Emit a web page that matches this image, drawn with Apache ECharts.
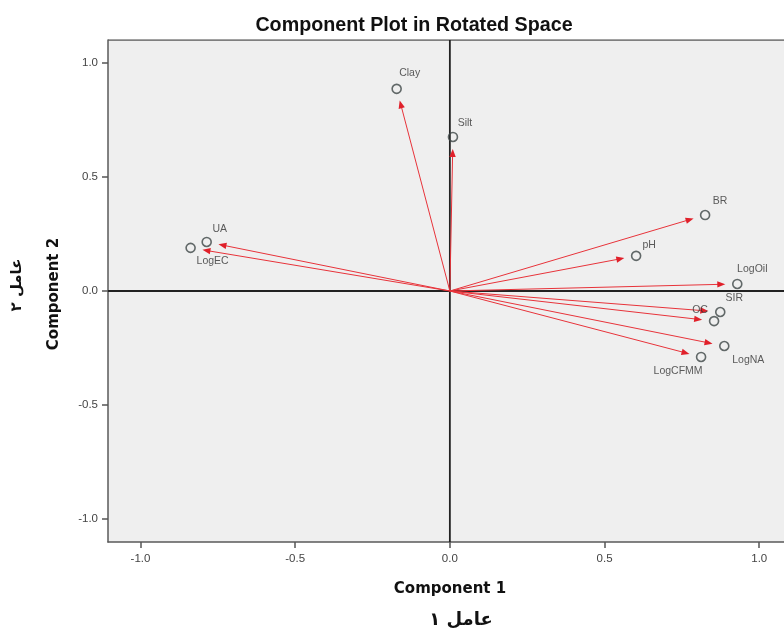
<!DOCTYPE html>
<html><head><meta charset="utf-8">
<script src="https://cdn.jsdelivr.net/npm/echarts@6/dist/echarts.min.js"></script>
<style>html,body{margin:0;padding:0;background:#fff}#c{width:784px;height:634px}</style>
</head><body><div id="c"></div>
<script>
var variables = ['Clay','Silt','BR','pH','LogOil','SIR','OC','LogNA','LogCFMM','UA','LogEC'];
var component1 = [-0.172, 0.010, 0.825, 0.602, 0.929, 0.874, 0.854, 0.887, 0.812, -0.786, -0.838];
var component2 = [0.886, 0.675, 0.333, 0.154, 0.031, -0.092, -0.132, -0.241, -0.289, 0.215, 0.189];
var tickValues = [-1.0, -0.5, 0.0, 0.5, 1.0];

// label offsets (styling only)
var labelOffset = {
  Clay:[13,-16], Silt:[12,-14], BR:[15,-14], pH:[13,-11], LogOil:[15,-15],
  SIR:[14,-14], OC:[-14,-11], LogNA:[24,14], LogCFMM:[-23,14], UA:[13,-13], LogEC:[22,13]
};

var points = variables.map(function(n,i){
  return {name:n, value:[component1[i], component2[i]],
    label:{show:true, formatter:n, position:'inside', offset:labelOffset[n],
      align:'center', verticalAlign:'middle', color:'#333', fontSize:10.5,
      fontFamily:'Liberation Sans, Arial, sans-serif'}};
});
var arrowData = variables.map(function(n,i){ return [component1[i], component2[i]]; });

var chart = echarts.init(document.getElementById('c'), null, {renderer:'canvas'});
var labelFont = {color:'#444', fontSize:11.5, fontFamily:'Liberation Sans, Arial, sans-serif',
  formatter:function(v){return v.toFixed(1);}};
chart.setOption({
  animation:false,
  backgroundColor:'#fff',
  grid:{left:108, top:40, bottom:92, right:0, show:true, backgroundColor:'#efefef',
        borderWidth:0},
  xAxis:{type:'value', min:-1.105, max:1.08, splitLine:{show:false},
    axisLine:{show:true, onZero:false, lineStyle:{color:'#5a5a5a', width:1.5}},
    axisTick:{show:true, customValues:tickValues, length:6, lineStyle:{color:'#555', width:1.5}},
    axisLabel:Object.assign({customValues:tickValues, margin:11}, labelFont)},
  yAxis:{type:'value', min:-1.1, max:1.1, splitLine:{show:false},
    axisLine:{show:true, onZero:false, lineStyle:{color:'#5a5a5a', width:1.5}},
    axisTick:{show:true, customValues:tickValues, length:6, lineStyle:{color:'#555', width:1.5}},
    axisLabel:Object.assign({customValues:tickValues, margin:10}, labelFont)},
  graphic:[
    {type:'text', x:414, y:26, style:{text:'Component Plot in Rotated Space', fill:'#111',
      font:'bold 19.7px "Liberation Sans", Arial, sans-serif', align:'center', verticalAlign:'middle'}},
    {type:'text', x:450, y:589, style:{text:'Component 1', fill:'#111',
      font:'bold 15px "DejaVu Sans", sans-serif', align:'center', verticalAlign:'middle'}},
    {type:'text', x:461, y:620, style:{text:'عامل ۱', fill:'#111',
      font:'bold 18px "DejaVu Sans", sans-serif', align:'center', verticalAlign:'middle'}},
    {type:'text', x:54, y:294, rotation:Math.PI/2, style:{text:'Component 2', fill:'#111',
      font:'bold 15px "DejaVu Sans", sans-serif', align:'center', verticalAlign:'middle'}},
    {type:'text', x:17, y:285, rotation:Math.PI/2, style:{text:'عامل ۲', fill:'#111',
      font:'bold 15px "DejaVu Sans", sans-serif', align:'center', verticalAlign:'middle'}}
  ],
  series:[
    {type:'line', data:[[-1.105,1.1],[1.08,1.1]], symbol:'none', silent:true,
      lineStyle:{color:'#5a5a5a', width:1.5}, z:1},
    {type:'line', data:[[-1.105,0],[1.08,0]], symbol:'none', silent:true,
      lineStyle:{color:'#222', width:1.8}, z:1},
    {type:'line', data:[[0,-1.1],[0,1.1]], symbol:'none', silent:true,
      lineStyle:{color:'#222', width:1.8}, z:1},
    {type:'custom', data:arrowData, z:3, silent:true,
      renderItem:function(params, api){
        var p0 = api.coord([0,0]);
        var p1 = api.coord([api.value(0), api.value(1)]);
        var dx = p1[0]-p0[0], dy = p1[1]-p0[1];
        var len = Math.sqrt(dx*dx+dy*dy);
        var ux = dx/len, uy = dy/len;
        var gap = 12, head = 8, hw = 3.2;
        var tip = [p1[0]-ux*gap, p1[1]-uy*gap];
        var base = [tip[0]-ux*head, tip[1]-uy*head];
        return {type:'group', children:[
          {type:'line', shape:{x1:p0[0], y1:p0[1], x2:base[0]+ux*2, y2:base[1]+uy*2},
            style:{stroke:'#e8333a', lineWidth:1}},
          {type:'polygon', shape:{points:[tip, [base[0]-uy*hw, base[1]+ux*hw], [base[0]+uy*hw, base[1]-ux*hw]]},
            style:{fill:'#e0202a'}}
        ]};
      }},
    {type:'scatter', data:points, symbol:'circle', symbolSize:9, z:4,
      itemStyle:{color:'rgba(0,0,0,0)', borderColor:'#3d4646', borderWidth:1.6}}
  ]
});
</script></body></html>
